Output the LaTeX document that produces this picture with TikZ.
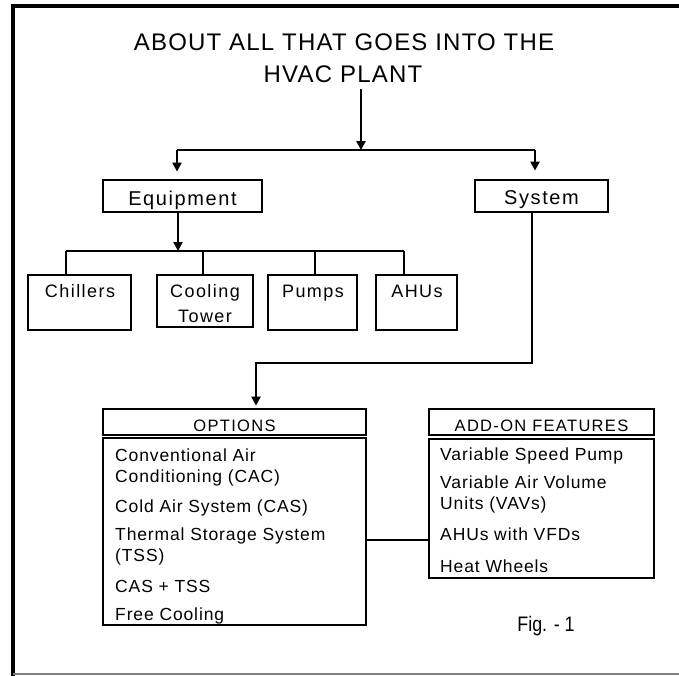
\documentclass[tikz,border=0pt]{standalone}
\usepackage{fontspec}
\setmainfont{Liberation Sans}
\newfontfamily\titlefont[LetterSpace=5]{Liberation Sans}
\newfontfamily\boxfont[LetterSpace=8]{Liberation Sans}
\newfontfamily\bodyfont[LetterSpace=5]{Liberation Sans}
\usetikzlibrary{arrows.meta}
\begin{document}
\begin{tikzpicture}[x=1pt,y=-1pt,
  frameline/.style={line width=3.2pt, line cap=rect},
  boxst/.style={draw, line width=2.8pt, inner sep=0pt},
  conn/.style={line width=2.4pt},
  arr/.style={conn, -{Triangle[length=9pt,width=9pt]}},
  titletext/.style={anchor=base, inner sep=0pt, font=\titlefont\fontsize{24}{27}\selectfont},
  boxtext/.style={anchor=base, inner sep=0pt, font=\boxfont\fontsize{20}{23}\selectfont},
  smalltext/.style={anchor=base, inner sep=0pt, font=\boxfont\fontsize{18}{21}\selectfont},
  headtext/.style={anchor=base, inner sep=0pt, font=\boxfont\fontsize{16.5}{19}\selectfont},
  itemtext/.style={anchor=base west, inner sep=0pt, font=\bodyfont\fontsize{17.5}{20}\selectfont}
]
\useasboundingbox (0,0) rectangle (679,675);
% frame
\draw[frameline] (13,675) -- (13,6) -- (679,6);
\draw[gray, line width=1.2pt] (13,674) -- (679,674);

% title
\node[titletext] (title1) at (344,50) {ABOUT ALL THAT GOES INTO THE};
\node[titletext] (title2) at (343,82) {HVAC PLANT};

% level 1 boxes
\node[boxst, minimum width=159pt, minimum height=32pt] (equip) at (182.5,196) {};
\node[boxtext] (equipt) at (182.5,205) {Equipment};
\node[boxst, minimum width=133pt, minimum height=32pt] (system) at (541.5,196) {};
\node[boxtext] (systemt) at (541.5,204) {System};

% title connectors
\coordinate (t0) at (361,89);
\coordinate (j1) at (361,150);
\coordinate (jl) at (177,150);
\coordinate (jr) at (535,150);
\draw[arr] (t0) -- (j1);
\draw[conn] (jl) -- (jr);
\draw[arr, shorten >=7pt] (jl) -- (jl |- equip.north);
\draw[arr, shorten >=8pt] (jr) -- (jr |- system.north);

% equipment boxes
\node[boxst, minimum width=103pt, minimum height=55pt] (chill) at (79.5,302.5) {};
\node[smalltext] at (80,297) {Chillers};
\node[boxst, minimum width=96pt, minimum height=52pt] (cool) at (205,301) {};
\node[smalltext] at (205,297) {Cooling};
\node[smalltext] at (205,322) {Tower};
\node[boxst, minimum width=89pt, minimum height=55pt] (pump) at (312.5,302.5) {};
\node[smalltext] at (313,297) {Pumps};
\node[boxst, minimum width=81pt, minimum height=55pt] (ahu) at (416.5,302.5) {};
\node[smalltext] at (417,297) {AHUs};

% equipment connectors
\coordinate (e0) at (178,212);
\coordinate (e1) at (178,251);
\coordinate (b1) at (66,251);
\coordinate (b2) at (203,251);
\coordinate (b3) at (315,251);
\coordinate (b4) at (404,251);
\draw[arr] (e0) -- (e1);
\draw[conn] (b1) -- (b4);
\draw[conn] (b1) -- (b1 |- chill.north);
\draw[conn] (b2) -- (b2 |- cool.north);
\draw[conn] (b3) -- (b3 |- pump.north);
\draw[conn] (b4) -- (b4 |- ahu.north);

% options
\node[boxst, minimum width=263pt, minimum height=26pt] (opth) at (234.5,422) {};
\node[headtext] at (234.5,431) {OPTIONS};
\node[boxst, minimum width=263pt, minimum height=187pt] (optb) at (234.5,531.5) {};
\node[itemtext] at (115,461) {Conventional Air};
\node[itemtext] at (115,482) {Conditioning (CAC)};
\node[itemtext] at (115,512) {Cold Air System (CAS)};
\node[itemtext] at (115,540) {Thermal Storage System};
\node[itemtext] at (115,561) {(TSS)};
\node[itemtext] at (115,592) {CAS + TSS};
\node[itemtext] at (115,620) {Free Cooling};

% add-on features
\node[boxst, minimum width=225pt, minimum height=26pt] (addh) at (541.5,422) {};
\node[headtext] at (541.5,431) {ADD-ON FEATURES};
\node[boxst, minimum width=225pt, minimum height=139pt] (addb) at (541.5,508.5) {};
\node[itemtext] at (440,460) {Variable Speed Pump};
\node[itemtext] at (440,488) {Variable Air Volume};
\node[itemtext] at (440,509) {Units (VAVs)};
\node[itemtext] at (440,540) {AHUs with VFDs};
\node[itemtext] at (440,572) {Heat Wheels};

% system connector
\coordinate (s0) at (532,212);
\coordinate (s1) at (532,363);
\coordinate (s2) at (256,363);
\draw[arr, shorten >=2pt] (s0) -- (s1) -- (s2) -- (s2 |- opth.north);

% options to add-on
\coordinate (c0) at (366,540);
\draw[conn] (c0) -- (c0 -| addb.west);

% caption
\node[anchor=base, inner sep=0pt, font=\fontsize{21}{24}\selectfont] (fig) at (546,631) {\scalebox{0.85}[1]{Fig. - 1}};
\end{tikzpicture}
\end{document}
